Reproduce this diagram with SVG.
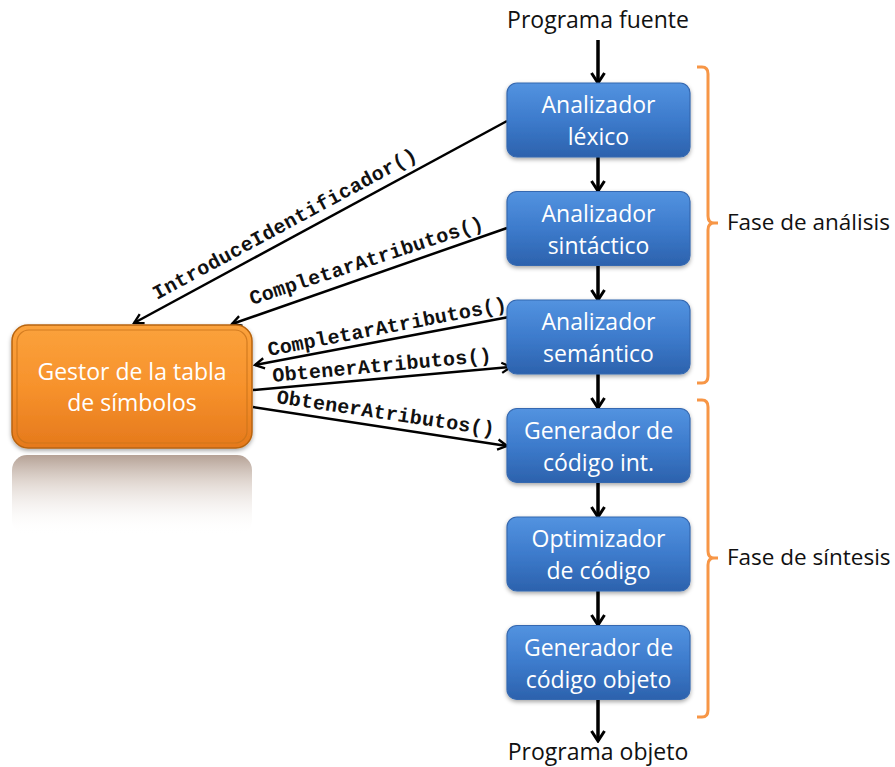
<svg xmlns="http://www.w3.org/2000/svg" width="895" height="767" viewBox="0 0 895 767">
<defs>
<linearGradient id="gBlue" x1="0" y1="0" x2="0" y2="1">
<stop offset="0" stop-color="#5393e0"/>
<stop offset="0.5" stop-color="#3d7bcc"/>
<stop offset="1" stop-color="#2c62ad"/>
</linearGradient>
<linearGradient id="gOrange" x1="0" y1="0" x2="0" y2="1">
<stop offset="0" stop-color="#fba23c"/>
<stop offset="0.5" stop-color="#f7922c"/>
<stop offset="1" stop-color="#e5791c"/>
</linearGradient>
<linearGradient id="gRefl" x1="0" y1="0" x2="0" y2="1">
<stop offset="0" stop-color="#9c8272" stop-opacity="0.75"/>
<stop offset="0.35" stop-color="#c6b4a8" stop-opacity="0.5"/>
<stop offset="1" stop-color="#ffffff" stop-opacity="0"/>
</linearGradient>
<filter id="shadow" x="-10%" y="-10%" width="120%" height="130%">
<feDropShadow dx="0" dy="2" stdDeviation="2" flood-color="#000" flood-opacity="0.35"/>
</filter>
<marker id="arr" viewBox="0 0 14 16" refX="12" refY="8" markerWidth="14" markerHeight="16" markerUnits="userSpaceOnUse" orient="auto">
<path d="M2,1.5 L12,8 L2,14.5" fill="none" stroke="#000" stroke-width="3"/>
</marker>
<marker id="arrS" viewBox="0 0 14 14" refX="12" refY="7" markerWidth="13" markerHeight="13" markerUnits="userSpaceOnUse" orient="auto">
<path d="M2,1.5 L12,7 L2,12.5" fill="none" stroke="#000" stroke-width="2.5"/>
</marker>
</defs>
<style>
.box{fill:url(#gBlue);stroke:#3568b0;stroke-width:1.2;filter:url(#shadow)}
.bt{font-family:"Open Sans","Liberation Sans",sans-serif;font-size:23px;fill:#ffffff;text-anchor:middle}
.lbl{font-family:"Open Sans","Liberation Sans",sans-serif;font-size:23px;fill:#111;}
.vflow{stroke:#000;stroke-width:3.5;fill:none;marker-end:url(#arr)}
.call{stroke:#000;stroke-width:2.5;fill:none;marker-end:url(#arrS)}
.fn{font-family:"Liberation Mono","Courier New",monospace;font-weight:bold;font-size:20px;fill:#111}
.brace{fill:none;stroke:#f79646;stroke-width:3;stroke-linejoin:round}
</style>

<g id="connectors">
<line class="vflow" x1="598" y1="40" x2="598" y2="83"/>
<line class="vflow" x1="598" y1="157" x2="598" y2="191"/>
<line class="vflow" x1="598" y1="265" x2="598" y2="300"/>
<line class="vflow" x1="598" y1="374" x2="598" y2="408"/>
<line class="vflow" x1="598" y1="482" x2="598" y2="517"/>
<line class="vflow" x1="598" y1="591" x2="598" y2="625"/>
<line class="vflow" x1="598" y1="699" x2="598" y2="741"/>
<line class="call" x1="507" y1="121" x2="134" y2="323"/>
<line class="call" x1="507" y1="228" x2="232" y2="324"/>
<line class="call" x1="509" y1="317" x2="255" y2="365"/>
<line class="call" x1="253" y1="390" x2="511" y2="367"/>
<line class="call" x1="253" y1="407" x2="507" y2="446"/>
<text class="fn" transform="translate(157,300) rotate(-28.4)" textLength="297" lengthAdjust="spacing">IntroduceIdentificador()</text>
<text class="fn" transform="translate(252,305) rotate(-18.2)" textLength="245" lengthAdjust="spacing">CompletarAtributos()</text>
<text class="fn" transform="translate(269,356) rotate(-10.9)" textLength="243" lengthAdjust="spacing">CompletarAtributos()</text>
<text class="fn" transform="translate(273,382) rotate(-5.4)" textLength="220" lengthAdjust="spacing">ObtenerAtributos()</text>
<text class="fn" transform="translate(276,403) rotate(8.5)" textLength="220" lengthAdjust="spacing">ObtenerAtributos()</text>
</g>

<g id="gestor">
<rect x="12" y="455" width="240" height="80" rx="15" fill="url(#gRefl)"/>
<rect x="12" y="325" width="240" height="123" rx="16" fill="url(#gOrange)" stroke="#b8640f" stroke-width="1.5" filter="url(#shadow)"/>
<rect x="17" y="330" width="230" height="113" rx="12" fill="none" stroke="#c9731a" stroke-width="1.2" opacity="0.8"/>
<text class="bt" x="132" y="380" fill="#fff7e8">Gestor de la tabla</text>
<text class="bt" x="132" y="411" fill="#fff7e8">de símbolos</text>
</g>

<g id="lexico">
<rect class="box" x="507" y="83" width="183" height="74" rx="10"/>
<text class="bt" x="598.5" y="113">Analizador</text>
<text class="bt" x="598.5" y="145">léxico</text>
</g>
<g id="sintactico">
<rect class="box" x="507" y="191.5" width="183" height="74" rx="10"/>
<text class="bt" x="598.5" y="221.5">Analizador</text>
<text class="bt" x="598.5" y="253.5">sintáctico</text>
</g>
<g id="semantico">
<rect class="box" x="507" y="300" width="183" height="74" rx="10"/>
<text class="bt" x="598.5" y="330">Analizador</text>
<text class="bt" x="598.5" y="362">semántico</text>
</g>
<g id="gen_int">
<rect class="box" x="507" y="408.5" width="183" height="74" rx="10"/>
<text class="bt" x="598.5" y="438.5">Generador de</text>
<text class="bt" x="598.5" y="470.5">código int.</text>
</g>
<g id="optimizador">
<rect class="box" x="507" y="517" width="183" height="74" rx="10"/>
<text class="bt" x="598.5" y="547">Optimizador</text>
<text class="bt" x="598.5" y="579">de código</text>
</g>
<g id="gen_obj">
<rect class="box" x="507" y="625.5" width="183" height="74" rx="10"/>
<text class="bt" x="598.5" y="655.5">Generador de</text>
<text class="bt" x="598.5" y="687.5">código objeto</text>
</g>

<g id="fuente">
<text class="lbl" x="598" y="28" text-anchor="middle">Programa fuente</text>
</g>
<g id="objeto">
<text class="lbl" x="598" y="760" text-anchor="middle">Programa objeto</text>
</g>

<g id="analisis">
<path class="brace" d="M697,67 L702,67 Q708,67 708,74 L708,216 Q708,223 714,223 L718,223 M714,223 Q708,223 708,230 L708,376 Q708,383 702,383 L697,383"/>
<text class="lbl" x="727" y="230" style="font-size:22.5px">Fase de análisis</text>
</g>
<g id="sintesis">
<path class="brace" d="M697,400 L702,400 Q708,400 708,407 L708,551 Q708,558 714,558 L718,558 M714,558 Q708,558 708,565 L708,710 Q708,717 702,717 L697,717"/>
<text class="lbl" x="727" y="565" style="font-size:22.5px">Fase de síntesis</text>
</g>
</svg>
